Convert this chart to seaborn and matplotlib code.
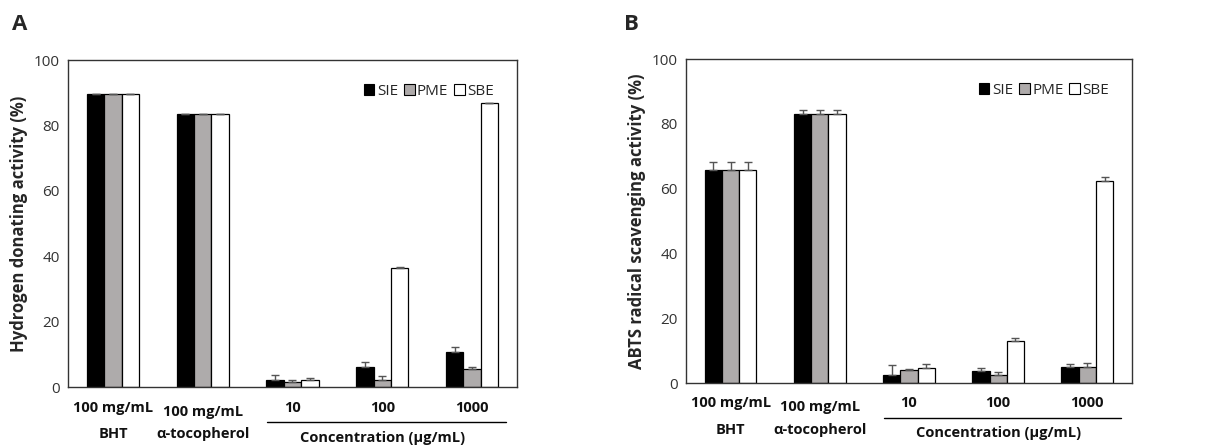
import numpy as np
import pandas as pd
import matplotlib
matplotlib.use("Agg")
import matplotlib.pyplot as plt
import seaborn as sns
from matplotlib.patches import Patch
import matplotlib.transforms as mtransforms

sns.set_theme(style="white")
plt.rcParams['font.family'] = ['Open Sans', 'DejaVu Sans']

groups = ["BHT", "α-tocopherol", "10", "100", "1000"]
extracts = ["SIE", "PME", "SBE"]

# Panel A: Hydrogen donating activity (%)
a_sie = [89.5, 83.4, 2.3, 6.2, 10.6]
a_pme = [89.5, 83.4, 1.5, 2.3, 5.6]
a_sbe = [89.5, 83.4, 2.1, 36.4, 86.8]
a_sie_err = [0.2, 0.2, 1.4, 1.5, 1.6]
a_pme_err = [0.2, 0.2, 0.8, 1.1, 0.6]
a_sbe_err = [0.2, 0.2, 0.6, 0.2, 0.1]

# Panel B: ABTS radical scavenging activity (%)
b_sie = [65.8, 83.2, 2.6, 3.8, 4.9]
b_pme = [65.8, 83.2, 4.1, 2.6, 4.9]
b_sbe = [65.8, 83.2, 4.6, 12.9, 62.3]
b_sie_err = [2.4, 1.2, 2.9, 0.7, 0.9]
b_pme_err = [2.4, 1.2, 0.2, 0.9, 1.2]
b_sbe_err = [2.4, 1.2, 1.2, 1.1, 1.2]

line1_labels = ["100 mg/mL", "100 mg/mL", "10", "100", "1000"]
line2_labels = ["BHT", "α-tocopherol"]
conc_label = "Concentration (μg/mL)"
colors = ["#000000", "#aeaaaa", "#ffffff"]


def panel(ax, vals, errs, ylabel, letter, letter_x):
    df = pd.DataFrame({
        "group": groups * 3,
        "extract": sum([[e] * len(groups) for e in extracts], []),
        "value": vals[0] + vals[1] + vals[2],
    })
    sns.barplot(data=df, x="group", y="value", hue="extract", order=groups,
                hue_order=extracts, palette=colors, edgecolor="black",
                linewidth=0.9, width=0.58, errorbar=None, ax=ax, legend=False)
    for cont, err in zip(ax.containers, errs):
        xs = [b.get_x() + b.get_width() / 2 for b in cont]
        hs = [b.get_height() for b in cont]
        ax.errorbar(xs, hs, yerr=[np.zeros(len(err)), err], fmt="none",
                    ecolor="#555555", elinewidth=1, capsize=3, capthick=1, zorder=3)
    ax.set_ylim(0, 100)
    ax.set_xlim(-0.5, 4.5)
    ax.set_yticks([0, 20, 40, 60, 80, 100])
    ax.tick_params(axis="y", labelsize=11, labelcolor="#333333", length=0, pad=6)
    ax.set_xticks([0.5, 1.5, 2.5, 3.5])
    ax.set_xticklabels([])
    ax.tick_params(axis="x", direction="in", length=5, width=1, color="#333333")
    ax.set_xlabel("")
    ax.set_ylabel(ylabel, fontsize=12, fontweight="bold", labelpad=4)
    for s in ax.spines.values():
        s.set_color("#333333")
        s.set_linewidth(1)
    trans = mtransforms.blended_transform_factory(ax.transData, ax.transAxes)
    for i, t in enumerate(line1_labels):
        dy = -0.075 if i == 1 else -0.063
        ax.text(i, dy, t, transform=trans, ha="center", va="center",
                fontsize=10.5, fontweight="bold", color="#111111")
    for i, t in enumerate(line2_labels):
        ax.text(i, -0.145, t, transform=trans, ha="center", va="center",
                fontsize=10.5, fontweight="bold", color="#111111")
    ax.plot([1.72, 4.38], [-0.108, -0.108], transform=trans, color="black",
            lw=1, clip_on=False)
    ax.text(3.0, -0.155, conc_label, transform=trans, ha="center", va="center",
            fontsize=10.5, fontweight="bold", color="#111111")
    handles = [Patch(facecolor=c, edgecolor="black", linewidth=0.8) for c in colors]
    ax.legend(handles, extracts, loc="upper right", ncol=3, frameon=False,
              fontsize=11, handlelength=0.7, handleheight=0.7,
              handletextpad=0.15, columnspacing=0.4, bbox_to_anchor=(0.98, 0.97))
    ax.figure.text(letter_x, 0.945, letter, fontsize=16, fontweight="bold",
                   ha="left", va="center")


fig = plt.figure(figsize=(12.25, 4.48), dpi=100)
ax1 = fig.add_axes([0.0555, 0.136, 0.3665, 0.730])
ax2 = fig.add_axes([0.560, 0.145, 0.364, 0.723])
panel(ax1, [a_sie, a_pme, a_sbe], [a_sie_err, a_pme_err, a_sbe_err],
      "Hydrogen donating activity (%)", "A", 0.010)
panel(ax2, [b_sie, b_pme, b_sbe], [b_sie_err, b_pme_err, b_sbe_err],
      "ABTS radical scavenging activity (%)", "B", 0.509)
fig.savefig("out.png", dpi=100)
